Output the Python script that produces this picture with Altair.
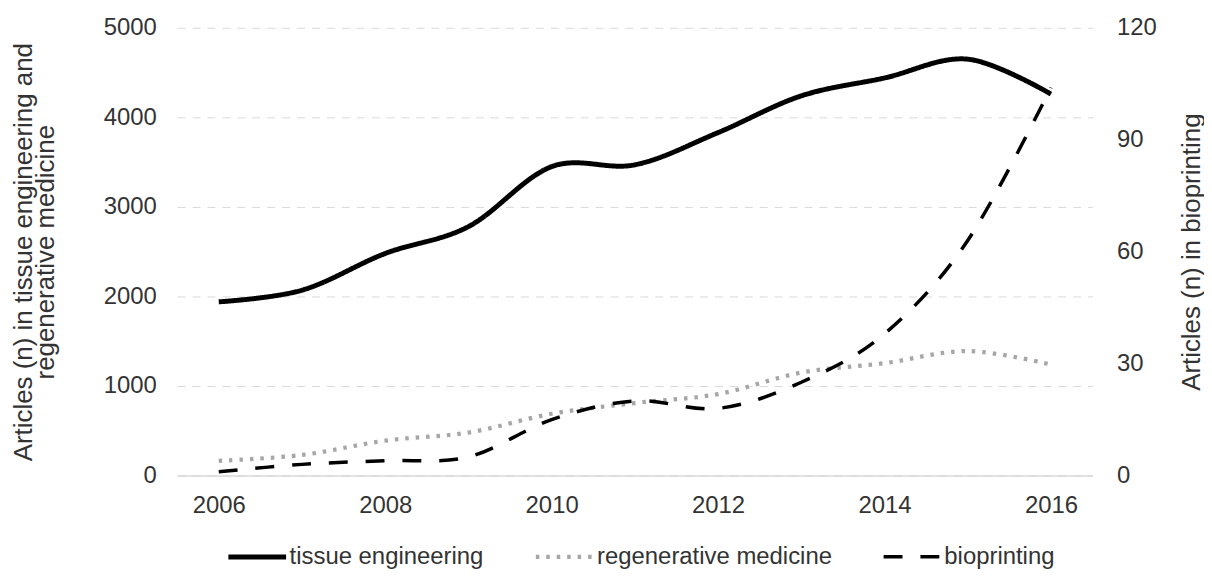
import altair as alt
import pandas as pd

# ---- data ----
years = [2006, 2007, 2008, 2009, 2010, 2011, 2012, 2013, 2014, 2015, 2016]
tissue_engineering = [1940, 2070, 2480, 2780, 3450, 3470, 3830, 4240, 4440, 4650, 4260]
regenerative_medicine = [165, 230, 390, 480, 690, 810, 910, 1150, 1255, 1390, 1240]
bioprinting = [1, 3, 4, 5, 15, 20, 18, 25, 38, 63, 104]

series_names = ["tissue engineering", "regenerative medicine", "bioprinting"]
x_ticks = [2006, 2008, 2010, 2012, 2014, 2016]
left_ticks = [0, 1000, 2000, 3000, 4000, 5000]
right_ticks = [0, 30, 60, 90, 120]

left_df = pd.DataFrame({
    "year": years * 2,
    "series": [series_names[0]] * len(years) + [series_names[1]] * len(years),
    "value": tissue_engineering + regenerative_medicine,
})
right_df = pd.DataFrame({
    "year": years,
    "series": [series_names[2]] * len(years),
    "value": bioprinting,
})

FONT = "Liberation Sans, Arial, sans-serif"
TXT = "#333333"

legend = alt.Legend(
    title=None, orient="none", direction="horizontal",
    legendX=49, legendY=500,
    symbolType="stroke", symbolSize=3364,
    labelFontSize=24, labelFont=FONT, labelColor=TXT, labelLimit=500,
    labelOffset=1, columnPadding=44, padding=0,
)

color = alt.Color("series:N",
                  scale=alt.Scale(domain=series_names, range=["#000000", "#a6a6a6", "#000000"]),
                  legend=legend)
dash = alt.StrokeDash("series:N",
                      scale=alt.Scale(domain=series_names, range=[[1, 0], [3.5, 7], [19, 18]]),
                      legend=legend)
width = alt.StrokeWidth("series:N",
                        scale=alt.Scale(domain=series_names, range=[5, 3.5, 5]),
                        legend=legend)

x = alt.X("year:Q",
          scale=alt.Scale(domain=[2005.5, 2016.5], nice=False, zero=False),
          axis=alt.Axis(values=x_ticks, format="d", title=None, grid=False, ticks=False,
                        domainColor="#d9d9d9", domainWidth=1.5,
                        labelFontSize=24, labelFont=FONT, labelColor=TXT, labelPadding=18))

left = alt.Chart(left_df).mark_line(interpolate="cardinal").encode(
    x=x,
    y=alt.Y("value:Q",
            scale=alt.Scale(domain=[0, 5000], nice=False),
            axis=alt.Axis(values=left_ticks, format="d", grid=True, gridDash=[8, 7],
                          gridColor="#d9d9d9", gridWidth=1, domain=False, ticks=False,
                          labelFontSize=24, labelFont=FONT, labelColor=TXT, labelPadding=21,
                          title=["Articles (n) in tissue engineering and", "regenerative medicine"],
                          titleFontSize=26, titleFont=FONT, titleColor=TXT,
                          titleFontWeight="normal", titleLineHeight=22, titlePadding=45)),
    color=color, strokeDash=dash, strokeWidth=width,
)

right = alt.Chart(right_df).mark_line(interpolate="cardinal").encode(
    x=x,
    y=alt.Y("value:Q",
            scale=alt.Scale(domain=[0, 120], nice=False),
            axis=alt.Axis(orient="right", values=right_ticks, format="d", grid=False,
                          domain=False, ticks=False,
                          labelFontSize=24, labelFont=FONT, labelColor=TXT, labelPadding=24,
                          title="Articles (n) in bioprinting",
                          titleFontSize=26, titleFont=FONT, titleColor=TXT,
                          titleFontWeight="normal", titleAngle=270, titleBaseline="top",
                          titlePadding=22)),
    color=color, strokeDash=dash, strokeWidth=width,
)

chart = alt.layer(left, right).resolve_scale(y="independent").properties(
    width=920, height=450,
    autosize=alt.AutoSizeParams(type="none"),
    padding={"left": 170, "top": 18.5, "right": 112, "bottom": 92.5},
).configure_view(stroke=None)

chart.save("out.html", embed_options={"renderer": "svg", "actions": False})
